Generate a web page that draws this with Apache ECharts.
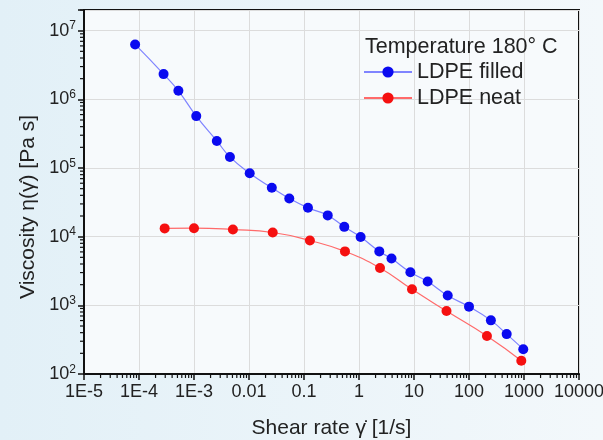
<!DOCTYPE html>
<html>
<head>
<meta charset="utf-8">
<script src="https://cdn.jsdelivr.net/npm/echarts@6/dist/echarts.min.js"></script>
<style>html,body{margin:0;padding:0;} #chart{width:603px;height:440px;}</style>
</head>
<body>
<div id="chart"></div>
<script>
var filledRate = [8.5e-5, 2.8e-4, 5.2e-4, 1.1e-3, 2.6e-3, 4.5e-3, 0.0103, 0.026, 0.054, 0.118, 0.27, 0.54, 1.07, 2.34, 3.9, 8.6, 17.7, 41, 100, 250, 484, 970];
var filledVisc = [6.3e6, 2.33e6, 1.33e6, 5.7e5, 2.48e5, 1.45e5, 8.4e4, 5.15e4, 3.6e4, 2.63e4, 2.04e4, 1.39e4, 9.9e3, 6.1e3, 4.8e3, 3.03e3, 2.22e3, 1.39e3, 957, 604, 381, 230];
var neatRate = [2.93e-4, 1.0e-3, 5.1e-3, 0.027, 0.128, 0.556, 2.41, 9.2, 39, 212, 893];
var neatVisc = [1.32e4, 1.33e4, 1.27e4, 1.15e4, 8.8e3, 6.1e3, 3.5e3, 1.71e3, 826, 357, 156];
var xTickLabels = ['1E-5', '1E-4', '1E-3', '0.01', '0.1', '1', '10', '100', '1000', '10000'];
// decades that get minor ticks at 2..9
var xDecades = [1e-5, 1e-4, 1e-3, 1e-2, 1e-1, 1, 10, 100, 1000];
var yDecades = [100, 1e3, 1e4, 1e5, 1e6, 1e7];
var minorSteps = [2, 3, 4, 5, 6, 7, 8, 9];

var X_MIN = 1e-5, X_MAX = 1e4, Y_MIN = 100, Y_MAX = 2e7;

function pairs(xs, ys) {
  return xs.map(function (x, i) { return [x, ys[i]]; });
}
function isPow10(v) {
  var e = Math.log10(v);
  return Math.abs(e - Math.round(e)) < 1e-6;
}

var chart = echarts.init(document.getElementById('chart'));
var font = '"Liberation Sans", Arial, sans-serif';
var tickStyle = {stroke: '#111', lineWidth: 1.2};

function xMinorTicks(params, api) {
  var d = api.value(0);
  var kids = [];
  minorSteps.forEach(function (k) {
    var p = api.coord([d * k, Y_MIN]);
    kids.push({type: 'line', shape: {x1: p[0], y1: p[1] - 1, x2: p[0], y2: p[1] + 4}, style: tickStyle});
  });
  return {type: 'group', children: kids};
}
function yMinorTicks(params, api) {
  var d = api.value(1);
  var kids = [];
  minorSteps.forEach(function (k) {
    if (d * k > Y_MAX) return;
    var p = api.coord([X_MIN, d * k]);
    kids.push({type: 'line', shape: {x1: p[0] - 4, y1: p[1], x2: p[0] + 1, y2: p[1]}, style: tickStyle});
  });
  return {type: 'group', children: kids};
}

var option = {
  backgroundColor: {
    type: 'linear', x: 0, y: 0, x2: 1, y2: 0,
    colorStops: [{offset: 0, color: '#e2f0f7'}, {offset: 1, color: '#f3f8fb'}]
  },
  textStyle: {fontFamily: font},
  title: {
    text: 'Temperature 180° C',
    left: 360, top: 31,
    textStyle: {fontSize: 21.5, fontWeight: 'normal', color: '#222', fontFamily: font}
  },
  legend: {
    data: ['LDPE filled', 'LDPE neat'],
    orient: 'vertical',
    left: 358, top: 56,
    itemWidth: 48, itemHeight: 14, itemGap: 4,
    textStyle: {fontSize: 21.5, color: '#222', fontFamily: font}
  },
  grid: {
    left: 84, right: 24, top: 10, bottom: 66,
    outerBoundsMode: 'none', containLabel: false,
    show: true, backgroundColor: '#f7fafc',
    borderColor: '#111', borderWidth: 2
  },
  xAxis: {
    type: 'log', logBase: 10, min: X_MIN, max: X_MAX,
    name: 'Shear rate γ̇ [1/s]',
    nameLocation: 'middle', nameGap: 44,
    nameTextStyle: {fontSize: 21, color: '#222', fontFamily: font},
    axisLine: {lineStyle: {color: '#111', width: 2}},
    axisTick: {show: true, length: 6, lineStyle: {color: '#111', width: 1.5}},
    splitLine: {show: true, lineStyle: {color: '#dcdcdc'}},
    axisLabel: {
      fontSize: 18, color: '#222', margin: 9,
      formatter: function (v) {
        if (!isPow10(v)) return '';
        return xTickLabels[Math.round(Math.log10(v)) + 5];
      }
    }
  },
  yAxis: {
    type: 'log', logBase: 10, min: Y_MIN, max: Y_MAX,
    name: 'Viscosity η(γ̇) [Pa s]',
    nameLocation: 'middle', nameGap: 45,
    nameTextStyle: {fontSize: 21, color: '#222', fontFamily: font, padding: [0, 30, 0, 0]},
    axisLine: {show: true, lineStyle: {color: '#111', width: 2}},
    axisTick: {show: true, length: 6, lineStyle: {color: '#111', width: 1.5}},
    splitLine: {show: true, lineStyle: {color: '#dcdcdc'}},
    axisLabel: {
      color: '#222', margin: 8,
      formatter: function (v) {
        if (!isPow10(v)) return '';
        return '{b|10}{s|' + Math.round(Math.log10(v)) + '}';
      },
      rich: {
        b: {fontSize: 18, color: '#222', fontFamily: font},
        s: {fontSize: 12, color: '#222', fontFamily: font, padding: [0, 0, 9, 0]}
      }
    }
  },
  series: [
    {
      name: 'LDPE filled', type: 'line', smooth: true,
      data: pairs(filledRate, filledVisc),
      symbol: 'circle', symbolSize: 10,
      itemStyle: {color: '#0a0af0'},
      lineStyle: {color: '#7f84ff', width: 1.2},
      z: 5
    },
    {
      name: 'LDPE neat', type: 'line', smooth: true,
      data: pairs(neatRate, neatVisc),
      symbol: 'circle', symbolSize: 10,
      itemStyle: {color: '#f51010'},
      lineStyle: {color: '#ff6a6a', width: 1.2},
      z: 5
    },
    {
      type: 'custom', silent: true, clip: false,
      data: xDecades.map(function (d) { return [d, Y_MIN]; }),
      renderItem: xMinorTicks
    },
    {
      type: 'custom', silent: true, clip: false,
      data: yDecades.map(function (d) { return [X_MIN, d]; }),
      renderItem: yMinorTicks
    }
  ]
};
chart.setOption(option);
</script>
</body>
</html>
